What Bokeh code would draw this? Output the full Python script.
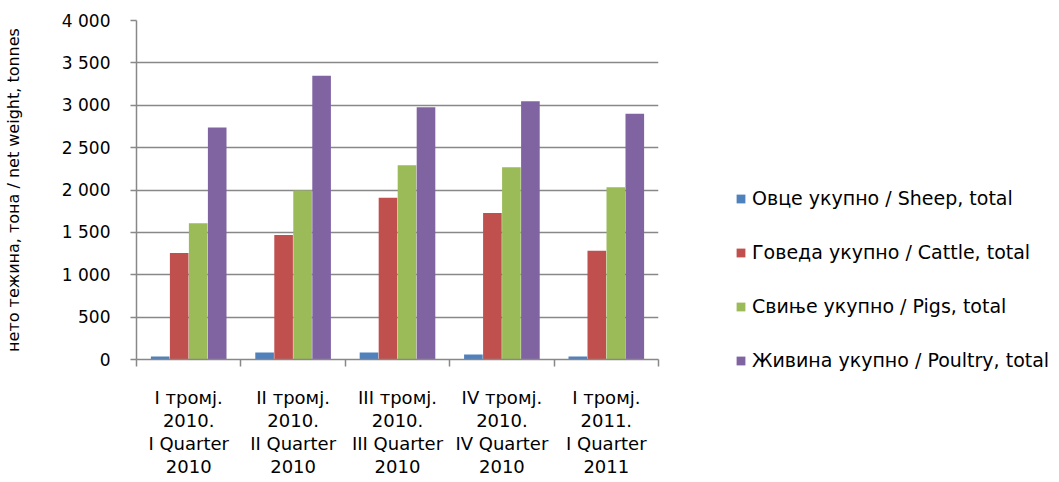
from bokeh.plotting import figure
from bokeh.models import ColumnDataSource, FixedTicker, Legend, LegendItem
from bokeh.embed import file_html
from bokeh.resources import INLINE

categories = ["I тромј.\n2010.\nI Quarter\n2010",
              "II тромј.\n2010.\nII Quarter\n2010",
              "III тромј.\n2010.\nIII Quarter\n2010",
              "IV тромј.\n2010.\nIV Quarter\n2010",
              "I тромј.\n2011.\nI Quarter\n2011"]
series_names = ["Овце укупно / Sheep, total",
                "Говеда укупно / Cattle, total",
                "Свиње укупно / Pigs, total",
                "Живина укупно / Poultry, total"]
sheep = [35, 83, 83, 59, 35]
cattle = [1258, 1470, 1910, 1730, 1282]
pigs = [1607, 1993, 2291, 2268, 2032]
poultry = [2736, 3349, 2976, 3046, 2901]
y_ticks = [0, 500, 1000, 1500, 2000, 2500, 3000, 3500, 4000]
y_tick_labels = ["0", "500", "1 000", "1 500", "2 000", "2 500", "3 000", "3 500", "4 000"]
colors = ["#4F81BD", "#C0504D", "#9BBB59", "#8064A2"]

FONT = "DejaVu Sans"

p = figure(width=1043, height=466, output_backend="svg", toolbar_location=None,
           x_range=(0, len(categories)), y_range=(0, 4000),
           min_border_left=136, min_border_top=20, min_border_bottom=107, min_border_right=385,
           frame_width=522, frame_height=339)
p.outline_line_color = None
p.background_fill_color = "white"
p.border_fill_color = "white"

bar_w = 0.182
all_series = [sheep, cattle, pigs, poultry]
items = []
for k, (vals, col, name) in enumerate(zip(all_series, colors, series_names)):
    xs = [i + 0.5 + (k - 1.5) * bar_w for i in range(len(categories))]
    src = ColumnDataSource(dict(x=xs, top=vals))
    r = p.vbar(x="x", top="top", width=bar_w * 0.98, bottom=0, source=src,
               fill_color=col, line_color=None)
    items.append(LegendItem(label=name, renderers=[r]))

# x axis
p.xaxis.ticker = FixedTicker(ticks=[i + 0.5 for i in range(len(categories))],
                             minor_ticks=list(range(len(categories) + 1)))
p.xaxis.major_label_overrides = {i + 0.5: c for i, c in enumerate(categories)}
p.xaxis.major_tick_line_color = None
p.xaxis.minor_tick_line_color = "#888888"
p.xaxis.minor_tick_out = 7
p.xaxis.minor_tick_in = 0
p.xaxis.minor_tick_line_width = 1.5
p.xaxis.axis_line_color = "#888888"
p.xaxis.axis_line_width = 1.5
p.xaxis.major_label_text_font = FONT
p.xaxis.major_label_text_font_size = "18px"
p.xaxis.major_label_text_line_height = 1.1
p.xaxis.major_label_text_color = "black"
p.xaxis.major_label_standoff = 20
p.xgrid.grid_line_color = None

# y axis
p.yaxis.ticker = FixedTicker(ticks=y_ticks)
p.yaxis.major_label_overrides = {t: l for t, l in zip(y_ticks, y_tick_labels)}
p.yaxis.minor_tick_line_color = None
p.yaxis.major_tick_line_color = "#888888"
p.yaxis.major_tick_out = 6
p.yaxis.major_tick_in = 0
p.yaxis.major_tick_line_width = 1.5
p.yaxis.axis_line_color = "#888888"
p.yaxis.axis_line_width = 1.5
p.yaxis.major_label_text_font = FONT
p.yaxis.major_label_text_font_size = "17px"
p.yaxis.major_label_text_color = "black"
p.yaxis.major_label_standoff = 20
p.yaxis.axis_label = "нето тежина, тона / net weight, tonnes"
p.yaxis.axis_label_text_font = FONT
p.yaxis.axis_label_text_font_size = "16px"
p.yaxis.axis_label_text_font_style = "normal"
p.yaxis.axis_label_text_color = "black"
p.yaxis.axis_label_standoff = 36
p.ygrid.grid_line_color = "#888888"
p.ygrid.grid_line_width = 1.5

legend = Legend(items=items, location="center_left")
legend.border_line_color = None
legend.background_fill_alpha = 0
legend.label_text_font = FONT
legend.label_text_font_size = "19px"
legend.label_text_color = "black"
legend.glyph_width = 11
legend.glyph_height = 11
legend.label_standoff = 6
legend.spacing = 32
legend.margin = 0
legend.padding = 0
legend.label_height = 22
p.add_layout(legend, "right")
legend.location = (77, -12)

open("out.html", "w").write(file_html(p, INLINE))
